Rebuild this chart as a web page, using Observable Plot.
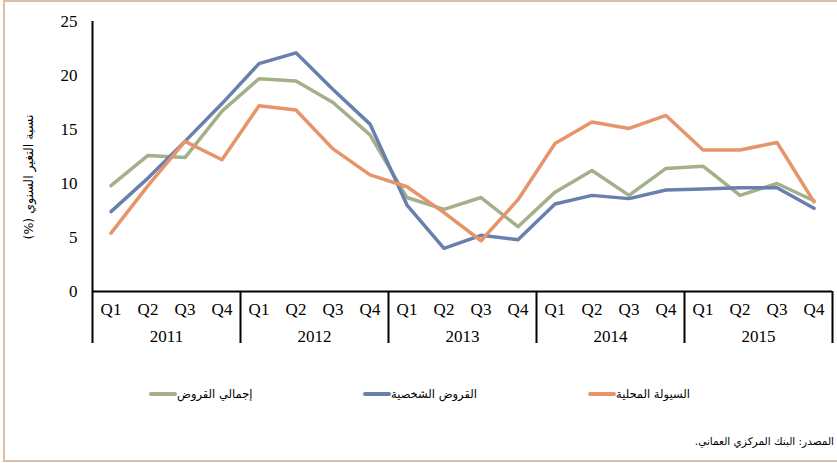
<!DOCTYPE html>
<html>
<head>
<meta charset="utf-8">
<script src="https://cdn.jsdelivr.net/npm/d3@7"></script>
<script src="https://cdn.jsdelivr.net/npm/@observablehq/plot@0.6"></script>
<style>
  html, body { margin: 0; padding: 0; background: #fff; }
  body { width: 837px; height: 463px; overflow: hidden; position: relative; font-family: "Liberation Serif", serif; }
  #frame { position: absolute; left: 3px; top: 0px; width: 860px; height: 462px; border: 2px solid #dcbfa4; box-sizing: border-box; }
  #chart { position: absolute; left: 0; top: 0; }
  #ylabel { position: absolute; left: 28px; top: 177px; transform: translate(-50%, -50%) rotate(-90deg); white-space: nowrap;
            font-family: "DejaVu Sans", sans-serif; font-size: 12.5px; direction: rtl; color: #000; }
  .leg { position: absolute; top: 385px; display: flex; align-items: center; height: 18px; direction: ltr; }
  .leg .sw { width: 28px; height: 4px; border-radius: 2px; }
  .leg .tx { font-family: "DejaVu Sans", sans-serif; font-size: 11.5px; direction: rtl; color: #000; }
  #source { position: absolute; top: 435px; right: 3px; font-family: "DejaVu Sans", sans-serif; font-size: 10.5px; direction: rtl; color: #000; white-space: nowrap; }
</style>
</head>
<body>
<div id="frame"></div>
<div id="chart"></div>
<div id="ylabel"></div>
<div id="legend"></div>
<div id="source"></div>
<script>
const years = [2011, 2012, 2013, 2014, 2015];
const quarters = ["Q1", "Q2", "Q3", "Q4"];
const yTicks = [0, 5, 10, 15, 20, 25];

const seriesNames = ["إجمالي القروض", "القروض الشخصية", "السيولة المحلية"];
const seriesColors = ["#a3b08a", "#6b7fae", "#e6956b"];

// إجمالي القروض
const totalLoans = [9.8, 12.6, 12.4, 16.7, 19.7, 19.5, 17.5, 14.5, 8.7, 7.6, 8.7, 6.0, 9.2, 11.2, 8.9, 11.4, 11.6, 8.9, 10.0, 8.4];
// القروض الشخصية
const personalLoans = [7.4, 10.5, 13.9, 17.4, 21.1, 22.1, 18.7, 15.5, 8.0, 4.0, 5.2, 4.8, 8.1, 8.9, 8.6, 9.4, 9.5, 9.6, 9.6, 7.7];
// السيولة المحلية
const liquidity = [5.4, 9.8, 13.9, 12.2, 17.2, 16.8, 13.2, 10.8, 9.7, 7.3, 4.7, 8.5, 13.7, 15.7, 15.1, 16.3, 13.1, 13.1, 13.8, 8.3];

const yLabel = "نسبة التغير السنوي (%)";
const sourceText = "المصدر: البنك المركزي العماني.";

const seriesValues = [totalLoans, personalLoans, liquidity];
const n = years.length * quarters.length;
const idx = d3.range(n);
const dividers = d3.range(years.length + 1).map(k => k * quarters.length - 0.5);
const yearMids = years.map((y, k) => k * quarters.length + (quarters.length - 1) / 2);

const data = seriesNames.flatMap((name, s) => seriesValues[s].map((v, i) => ({ i, v, name })));

const plot = Plot.plot({
  width: 837,
  height: 350,
  marginLeft: 92,
  marginRight: 5,
  marginTop: 21,
  marginBottom: 59,
  x: { type: "linear", domain: [-0.5, n - 0.5] },
  y: { domain: [0, 25] },
  color: { domain: seriesNames, range: seriesColors },
  style: { fontFamily: "Liberation Serif, serif", fontSize: "17px", color: "#000", background: "transparent" },
  marks: [
    Plot.axisY({ ticks: yTicks, tickSize: 0, tickPadding: 15, label: null, fontSize: 17 }),
    Plot.axisX({ ticks: idx, tickSize: 0, tickPadding: 11, tickFormat: d => quarters[Math.round(d) % quarters.length], label: null, fontSize: 17 }),
    Plot.axisX({ ticks: yearMids, tickSize: 0, tickPadding: 38, tickFormat: d => String(years[Math.round((d - 1.5) / 4)]), label: null, fontSize: 17 }),
    Plot.axisX({ ticks: dividers, tickSize: 52, tickFormat: () => "", label: null, strokeWidth: 2 }),
    Plot.ruleY([0], { stroke: "#000", strokeWidth: 2 }),
    Plot.ruleX([-0.5], { stroke: "#000", strokeWidth: 2 }),
    Plot.line(data, { x: "i", y: "v", z: "name", stroke: "name", strokeWidth: 3.5, strokeLinejoin: "round" })
  ]
});
document.getElementById("chart").appendChild(plot);

document.getElementById("ylabel").textContent = yLabel;
document.getElementById("source").textContent = sourceText;

const legendLefts = [149, 363, 588];
const legend = document.getElementById("legend");
seriesNames.forEach((name, k) => {
  const item = document.createElement("div");
  item.className = "leg";
  item.style.left = legendLefts[k] + "px";
  const sw = document.createElement("span");
  sw.className = "sw";
  sw.style.background = seriesColors[k];
  const tx = document.createElement("span");
  tx.className = "tx";
  tx.textContent = name;
  item.appendChild(sw);
  item.appendChild(tx);
  legend.appendChild(item);
});
</script>
</body>
</html>
